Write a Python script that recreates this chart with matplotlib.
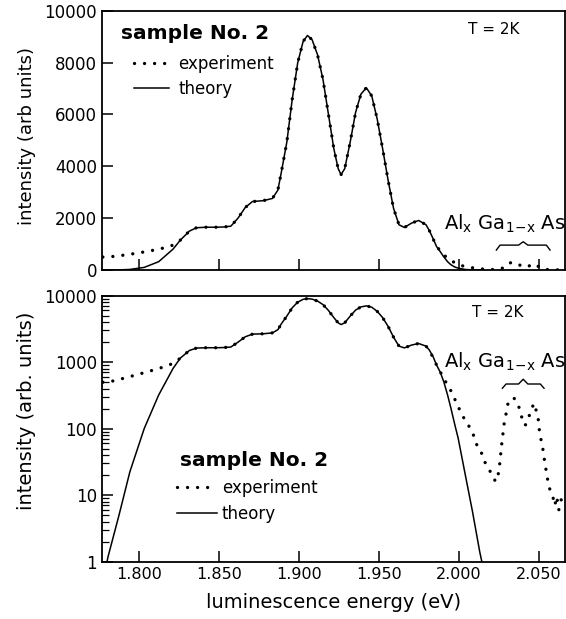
import matplotlib.pyplot as plt
import matplotlib.ticker as ticker

# photon energy (eV) and intensity
theory_E = [1.7790, 1.7808, 1.7876, 1.7944, 1.8034, 1.8124, 1.8214, 1.8259, 1.8316, 1.8360,
            1.8420, 1.8484, 1.8530, 1.8575, 1.8620, 1.8665, 1.8710, 1.8778, 1.8835, 1.8869,
            1.8891, 1.8925, 1.8959, 1.8993, 1.9027, 1.9054, 1.9083, 1.9117, 1.9151, 1.9185,
            1.9219, 1.9246, 1.9264, 1.9287, 1.9321, 1.9355, 1.9388, 1.9422, 1.9456, 1.9490,
            1.9524, 1.9558, 1.9592, 1.9626, 1.9660, 1.9705, 1.9749, 1.9795, 1.9816, 1.9840,
            1.9861, 1.9885, 1.9906, 1.9930, 1.9951, 1.9975, 1.9996, 2.0041, 2.0086, 2.0131,
            2.0144, 2.0150]
theory_I = [0.75, 1.2, 5.0, 22.5, 101, 321, 807, 1150, 1500, 1630,
            1650, 1650, 1660, 1690, 2000, 2410, 2640, 2675, 2760, 3080,
            3780, 4930, 6590, 7990, 8815, 9045, 8880, 8300, 7350, 6010,
            4675, 3910, 3680, 3910, 4930, 6080, 6780, 7030, 6710, 5820,
            4675, 3465, 2380, 1745, 1640, 1810, 1910, 1745, 1520, 1200,
            906, 700, 509, 320, 202, 115, 72, 20, 5.6, 1.4,
            1.0, 0.85]

exp_E = [1.7775, 1.7820, 1.7890, 1.7980, 1.8070, 1.8160, 1.8218, 1.8259, 1.8316, 1.8360,
         1.8420, 1.8484, 1.8530, 1.8575, 1.8620, 1.8665, 1.8710, 1.8778, 1.8835, 1.8869,
         1.8891, 1.8925, 1.8959, 1.8993, 1.9027, 1.9054, 1.9083, 1.9117, 1.9151, 1.9185,
         1.9219, 1.9246, 1.9264, 1.9287, 1.9321, 1.9355, 1.9388, 1.9422, 1.9456, 1.9490,
         1.9524, 1.9558, 1.9592, 1.9626, 1.9660, 1.9705, 1.9749, 1.9795, 1.9816, 1.9861,
         1.9923, 1.9954, 1.9979, 2.0006, 2.0038, 2.0069, 2.0090, 2.0106, 2.0120, 2.0142,
         2.0156, 2.0177, 2.0200, 2.0215, 2.0230, 2.0240, 2.0250, 2.0256, 2.0262, 2.0268,
         2.0275, 2.0282, 2.0294, 2.0302, 2.0310, 2.0325, 2.0346, 2.0371, 2.0386, 2.0405,
         2.0415, 2.0433, 2.0450, 2.0470, 2.0486, 2.0496, 2.0506, 2.0518, 2.0527, 2.0535,
         2.0544, 2.0552, 2.0562, 2.0575, 2.0590, 2.0600, 2.0612, 2.0625, 2.0640, 2.0655]
exp_I = [500, 509, 560, 641, 736, 855, 968, 1150, 1500, 1630,
         1650, 1650, 1660, 1690, 2000, 2410, 2640, 2675, 2760, 3080,
         3780, 4930, 6590, 7990, 8815, 9045, 8880, 8300, 7350, 6010,
         4675, 3910, 3680, 3910, 4930, 6080, 6780, 7030, 6710, 5820,
         4675, 3465, 2380, 1745, 1640, 1810, 1910, 1745, 1520, 906,
         482, 360, 264, 191, 135, 104, 82, 64, 50, 43,
         34, 27, 22, 18.6, 16.0, 19, 22, 30, 42, 58,
         80, 114, 161, 203, 260, 280, 286, 233, 171, 120,
         112, 138, 186, 241, 180, 143, 83, 62, 47, 34,
         25, 19, 14, 11, 9, 7, 9.5, 6, 8.5, 11]

xticks = [1.800, 1.850, 1.900, 1.950, 2.000, 2.050]
lin_ticks = [0, 2000, 4000, 6000, 8000, 10000]
log_ticks = [1, 10, 100, 1000, 10000]

dots = (0, (0.01, 3.0))


def brace(ax, x0, x1, xc, y_end, y_mid, y_tip):
    bx = [x0, x0 + 0.008, xc - 0.010, xc, xc + 0.010, x1 - 0.008, x1]
    by = [y_end, y_mid, y_mid, y_tip, y_mid, y_mid, y_end]
    ax.plot(bx, by, 'k-', lw=1.0, transform=ax.transAxes, clip_on=False)


def style(ax):
    for s in ax.spines.values():
        s.set_linewidth(1.3)
    ax.set_xlim(1.7769, 2.0663)
    ax.set_xticks(xticks)
    ax.tick_params(axis='both', which='major', direction='in', length=8, width=1.1, labelsize=12)


fig = plt.figure(figsize=(5.66, 6.19), dpi=100)
ax1 = fig.add_axes([0.180, 0.5638, 0.818, 0.4189])
ax2 = fig.add_axes([0.180, 0.0926, 0.818, 0.4297])

# top panel, linear scale
ax1.plot(exp_E, exp_I, color='k', lw=2.4, linestyle=dots, dash_capstyle='round', label='experiment')
ax1.plot(theory_E, theory_I, color='k', lw=1.1, label='theory')
style(ax1)
ax1.set_ylim(0, 10000)
ax1.set_yticks(lin_ticks)
ax1.tick_params(axis='x', labelbottom=False)
ax1.set_ylabel('intensity (arb units)', fontsize=13)
ax1.yaxis.set_label_coords(-0.143, 0.515)
ax1.text(0.041, 0.914, 'sample No. 2', transform=ax1.transAxes, fontsize=14.5,
         fontweight='bold', va='center', ha='left')
ax1.legend(loc='upper left', bbox_to_anchor=(0.07, 0.83), frameon=False, fontsize=12,
           handlelength=2.1, handletextpad=0.55, labelspacing=0.45, borderpad=0, borderaxespad=0)
ax1.text(0.847, 0.929, 'T = 2K', transform=ax1.transAxes, fontsize=11, ha='center', va='center')
ax1.text(0.871, 0.177, r'Al$_\mathrm{x}$ Ga$_\mathrm{1\!-\!x}$ As', transform=ax1.transAxes,
         fontsize=14, ha='center', va='center')
brace(ax1, 0.852, 0.968, 0.910, 0.077, 0.096, 0.109)

# bottom panel, log scale
ax2.plot(exp_E, exp_I, color='k', lw=2.4, linestyle=dots, dash_capstyle='round', label='experiment')
ax2.plot(theory_E, theory_I, color='k', lw=1.1, label='theory')
ax2.set_yscale('log')
style(ax2)
ax2.set_ylim(1, 10000)
ax2.set_yticks(log_ticks)
ax2.yaxis.set_major_formatter(ticker.FuncFormatter(lambda v, p: '%g' % v))
ax2.xaxis.set_major_formatter(ticker.FormatStrFormatter('%.3f'))
ax2.tick_params(axis='x', labelsize=11.5)
ax2.tick_params(axis='y', which='minor', direction='in', length=5, width=0.9)
ax2.set_ylabel('intensity (arb. units)', fontsize=14)
ax2.yaxis.set_label_coords(-0.143, 0.567)
ax2.set_xlabel('luminescence energy (eV)', fontsize=14, labelpad=8)
ax2.text(0.168, 0.382, 'sample No. 2', transform=ax2.transAxes, fontsize=14.5,
         fontweight='bold', va='center', ha='left')
ax2.legend(loc='upper left', bbox_to_anchor=(0.162, 0.31), frameon=False, fontsize=12,
           handlelength=2.4, handletextpad=0.3, labelspacing=0.45, borderpad=0, borderaxespad=0)
ax2.text(0.855, 0.935, 'T = 2K', transform=ax2.transAxes, fontsize=11, ha='center', va='center')
ax2.text(0.871, 0.751, r'Al$_\mathrm{x}$ Ga$_\mathrm{1\!-\!x}$ As', transform=ax2.transAxes,
         fontsize=14, ha='center', va='center')
brace(ax2, 0.865, 0.955, 0.910, 0.652, 0.668, 0.686)

fig.savefig('out.png', dpi=100)
